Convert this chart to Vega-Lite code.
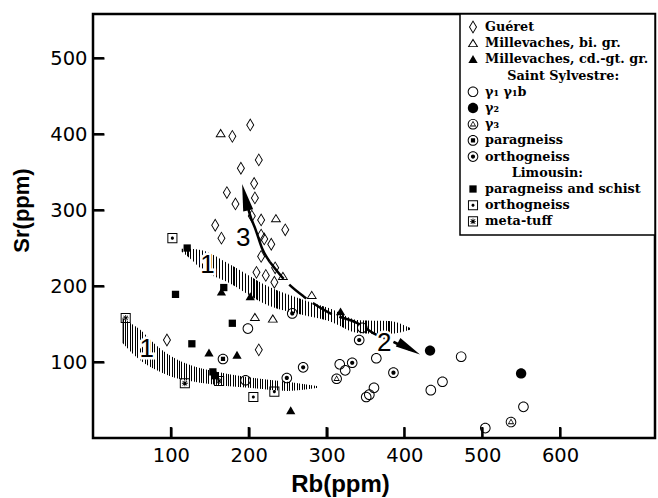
{
  "$schema": "https://vega.github.io/schema/vega-lite/v6.json",
  "width": 562,
  "height": 424,
  "autosize": {"type": "none"},
  "padding": {"left": 93, "top": 14, "right": 3, "bottom": 60},
  "background": "white",
  "config": {
    "view": {"stroke": "black", "strokeWidth": 2.5},
    "axis": {
      "grid": false, "domain": false, "offset": -11, "zindex": 1, "ticks": true,
      "tickColor": "black", "tickWidth": 2.2, "tickSize": 11, "tickOpacity": 1,
      "labelFont": "DejaVu Sans", "labelFontSize": 19.5, "labelColor": "black",
      "titleFont": "Liberation Sans", "titleFontWeight": "bold", "titleColor": "black"
    },
    "axisX": {"labelPadding": 8, "titleFontSize": 24, "titleX": 247, "titleY": 64, "titleBaseline": "alphabetic", "titleAlign": "center"},
    "axisY": {"labelPadding": 6, "titleFontSize": 22, "titleX": -76, "titleY": 196, "titleBaseline": "alphabetic", "titleAlign": "center", "titleAngle": -90},
    "legend": {
      "orient": "top-right", "offset": 0, "strokeColor": "black", "strokeWidth": 1.5,
      "fillColor": "white", "padding": 6, "labelFont": "DejaVu Serif", "labelFontSize": 12.8,
      "labelFontWeight": "bold", "labelColor": "black", "labelLimit": 400, "symbolSize": 196,
      "symbolFillColor": "black", "symbolStrokeWidth": 0, "symbolOpacity": 1, "rowPadding": 2.2, "labelOffset": 5
    }
  },
  "datasets": {
    "points": [
      {"Rb": 202, "Sr": 412, "type": "Guéret"}, {"Rb": 179, "Sr": 397, "type": "Guéret"},
      {"Rb": 213, "Sr": 366, "type": "Guéret"}, {"Rb": 190, "Sr": 355, "type": "Guéret"},
      {"Rb": 207, "Sr": 335, "type": "Guéret"}, {"Rb": 172, "Sr": 323, "type": "Guéret"},
      {"Rb": 208, "Sr": 316, "type": "Guéret"}, {"Rb": 183, "Sr": 308, "type": "Guéret"},
      {"Rb": 204, "Sr": 292, "type": "Guéret"}, {"Rb": 216, "Sr": 287, "type": "Guéret"},
      {"Rb": 157, "Sr": 280, "type": "Guéret"}, {"Rb": 247, "Sr": 274, "type": "Guéret"},
      {"Rb": 165, "Sr": 263, "type": "Guéret"}, {"Rb": 216, "Sr": 267, "type": "Guéret"},
      {"Rb": 220, "Sr": 262, "type": "Guéret"}, {"Rb": 229, "Sr": 255, "type": "Guéret"},
      {"Rb": 216, "Sr": 239, "type": "Guéret"}, {"Rb": 234, "Sr": 224, "type": "Guéret"},
      {"Rb": 210, "Sr": 218, "type": "Guéret"}, {"Rb": 222, "Sr": 214, "type": "Guéret"},
      {"Rb": 233, "Sr": 205, "type": "Guéret"}, {"Rb": 95, "Sr": 129, "type": "Guéret"},
      {"Rb": 213, "Sr": 116, "type": "Guéret"},
      {"Rb": 164, "Sr": 401, "type": "Millevaches, bi. gr."}, {"Rb": 235, "Sr": 289, "type": "Millevaches, bi. gr."},
      {"Rb": 244, "Sr": 213, "type": "Millevaches, bi. gr."}, {"Rb": 281, "Sr": 188, "type": "Millevaches, bi. gr."},
      {"Rb": 208, "Sr": 159, "type": "Millevaches, bi. gr."}, {"Rb": 231, "Sr": 157, "type": "Millevaches, bi. gr."},
      {"Rb": 149, "Sr": 112, "type": "Millevaches, cd.-gt. gr."}, {"Rb": 185, "Sr": 109, "type": "Millevaches, cd.-gt. gr."},
      {"Rb": 254, "Sr": 36, "type": "Millevaches, cd.-gt. gr."}, {"Rb": 165, "Sr": 192, "type": "Millevaches, cd.-gt. gr."},
      {"Rb": 202, "Sr": 186, "type": "Millevaches, cd.-gt. gr."}, {"Rb": 318, "Sr": 166, "type": "Millevaches, cd.-gt. gr."},
      {"Rb": 199, "Sr": 144, "type": "γ₁ γ₁b"}, {"Rb": 196, "Sr": 76, "type": "γ₁ γ₁b"},
      {"Rb": 317, "Sr": 97, "type": "γ₁ γ₁b"}, {"Rb": 324, "Sr": 89, "type": "γ₁ γ₁b"},
      {"Rb": 351, "Sr": 54, "type": "γ₁ γ₁b"}, {"Rb": 355, "Sr": 57, "type": "γ₁ γ₁b"},
      {"Rb": 364, "Sr": 105, "type": "γ₁ γ₁b"}, {"Rb": 346, "Sr": 145, "type": "γ₁ γ₁b"},
      {"Rb": 361, "Sr": 66, "type": "γ₁ γ₁b"}, {"Rb": 473, "Sr": 107, "type": "γ₁ γ₁b"},
      {"Rb": 434, "Sr": 63, "type": "γ₁ γ₁b"}, {"Rb": 449, "Sr": 74, "type": "γ₁ γ₁b"},
      {"Rb": 553, "Sr": 41, "type": "γ₁ γ₁b"}, {"Rb": 504, "Sr": 13, "type": "γ₁ γ₁b"},
      {"Rb": 433, "Sr": 115, "type": "γ₂"}, {"Rb": 550, "Sr": 85, "type": "γ₂"},
      {"Rb": 313, "Sr": 78, "type": "γ₃"}, {"Rb": 537, "Sr": 21, "type": "γ₃"},
      {"Rb": 167, "Sr": 104, "type": "Saint Sylvestre paragneiss"},
      {"Rb": 249, "Sr": 79, "type": "Saint Sylvestre orthogneiss"}, {"Rb": 270, "Sr": 93, "type": "Saint Sylvestre orthogneiss"},
      {"Rb": 333, "Sr": 99, "type": "Saint Sylvestre orthogneiss"}, {"Rb": 342, "Sr": 129, "type": "Saint Sylvestre orthogneiss"},
      {"Rb": 386, "Sr": 86, "type": "Saint Sylvestre orthogneiss"}, {"Rb": 256, "Sr": 164, "type": "Saint Sylvestre orthogneiss"},
      {"Rb": 127, "Sr": 124, "type": "paragneiss and schist"}, {"Rb": 154, "Sr": 87, "type": "paragneiss and schist"},
      {"Rb": 157, "Sr": 82, "type": "paragneiss and schist"}, {"Rb": 121, "Sr": 250, "type": "paragneiss and schist"},
      {"Rb": 106, "Sr": 189, "type": "paragneiss and schist"}, {"Rb": 168, "Sr": 198, "type": "paragneiss and schist"},
      {"Rb": 179, "Sr": 151, "type": "paragneiss and schist"},
      {"Rb": 102, "Sr": 263, "type": "Limousin orthogneiss"}, {"Rb": 206, "Sr": 54, "type": "Limousin orthogneiss"},
      {"Rb": 233, "Sr": 61, "type": "Limousin orthogneiss"},
      {"Rb": 42, "Sr": 158, "type": "meta-tuff"}, {"Rb": 118, "Sr": 72, "type": "meta-tuff"},
      {"Rb": 162, "Sr": 75, "type": "meta-tuff"}
    ],
    "bands": [
      {"band": "upper", "Rb": 114, "lo": 245, "hi": 249}, {"band": "upper", "Rb": 125, "lo": 236, "hi": 249},
      {"band": "upper", "Rb": 140, "lo": 222, "hi": 247}, {"band": "upper", "Rb": 175, "lo": 204, "hi": 229},
      {"band": "upper", "Rb": 226, "lo": 174, "hi": 199}, {"band": "upper", "Rb": 270, "lo": 162, "hi": 182},
      {"band": "upper", "Rb": 303, "lo": 154, "hi": 171}, {"band": "upper", "Rb": 342, "lo": 138, "hi": 155},
      {"band": "upper", "Rb": 380, "lo": 137, "hi": 154}, {"band": "upper", "Rb": 409, "lo": 143, "hi": 144},
      {"band": "lower", "Rb": 38, "lo": 125, "hi": 158}, {"band": "lower", "Rb": 50, "lo": 112, "hi": 150},
      {"band": "lower", "Rb": 60, "lo": 103, "hi": 143}, {"band": "lower", "Rb": 80, "lo": 90, "hi": 123},
      {"band": "lower", "Rb": 100, "lo": 81, "hi": 108}, {"band": "lower", "Rb": 125, "lo": 75, "hi": 96},
      {"band": "lower", "Rb": 150, "lo": 71, "hi": 89}, {"band": "lower", "Rb": 200, "lo": 66, "hi": 80},
      {"band": "lower", "Rb": 250, "lo": 62, "hi": 74}, {"band": "lower", "Rb": 290, "lo": 66, "hi": 68}
    ],
    "arrowSolid": [
      {"Rb": 196, "Sr": 318}, {"Rb": 201, "Sr": 296}, {"Rb": 209, "Sr": 274},
      {"Rb": 217, "Sr": 250}, {"Rb": 227, "Sr": 232}
    ],
    "arrowDashed": [
      {"Rb": 227, "Sr": 232}, {"Rb": 248, "Sr": 206},
      {"Rb": 271, "Sr": 186}, {"Rb": 303, "Sr": 165}, {"Rb": 342, "Sr": 150},
      {"Rb": 360, "Sr": 138}, {"Rb": 387, "Sr": 126}, {"Rb": 408, "Sr": 116}
    ],
    "head3": [{"Rb": 195.5, "Sr": 317}],
    "head2": [{"Rb": 406, "Sr": 118}],
    "labels": [
      {"Rb": 147, "Sr": 228, "label": "1"}, {"Rb": 69, "Sr": 117, "label": "1"},
      {"Rb": 374, "Sr": 125, "label": "2"}, {"Rb": 193, "Sr": 263, "label": "3"}
    ],
    "xticks": [{"Rb": 100}, {"Rb": 200}, {"Rb": 300}, {"Rb": 400}, {"Rb": 500}, {"Rb": 600}],
    "yticks": [{"Sr": 100}, {"Sr": 200}, {"Sr": 300}, {"Sr": 400}, {"Sr": 500}]
  },
  "layer": [
    {
      "data": {"name": "bands"},
      "mark": {
        "type": "area", "interpolate": "monotone", "opacity": 1,
        "color": {
          "gradient": "linear", "x1": 0, "y1": 0, "x2": 1, "y2": 0,
          "stops": [
            {"offset": 0, "color": "#000"}, {"offset": 0.005, "color": "#000"}, {"offset": 0.005, "color": "#fff"},
            {"offset": 0.0125, "color": "#fff"}, {"offset": 0.0125, "color": "#000"}, {"offset": 0.0175, "color": "#000"}, {"offset": 0.0175, "color": "#fff"},
            {"offset": 0.025, "color": "#fff"}, {"offset": 0.025, "color": "#000"}, {"offset": 0.03, "color": "#000"}, {"offset": 0.03, "color": "#fff"},
            {"offset": 0.0375, "color": "#fff"}, {"offset": 0.0375, "color": "#000"}, {"offset": 0.0425, "color": "#000"}, {"offset": 0.0425, "color": "#fff"},
            {"offset": 0.05, "color": "#fff"}, {"offset": 0.05, "color": "#000"}, {"offset": 0.055, "color": "#000"}, {"offset": 0.055, "color": "#fff"},
            {"offset": 0.0625, "color": "#fff"}, {"offset": 0.0625, "color": "#000"}, {"offset": 0.0675, "color": "#000"}, {"offset": 0.0675, "color": "#fff"},
            {"offset": 0.075, "color": "#fff"}, {"offset": 0.075, "color": "#000"}, {"offset": 0.08, "color": "#000"}, {"offset": 0.08, "color": "#fff"},
            {"offset": 0.0875, "color": "#fff"}, {"offset": 0.0875, "color": "#000"}, {"offset": 0.0925, "color": "#000"}, {"offset": 0.0925, "color": "#fff"},
            {"offset": 0.1, "color": "#fff"}, {"offset": 0.1, "color": "#000"}, {"offset": 0.105, "color": "#000"}, {"offset": 0.105, "color": "#fff"},
            {"offset": 0.1125, "color": "#fff"}, {"offset": 0.1125, "color": "#000"}, {"offset": 0.1175, "color": "#000"}, {"offset": 0.1175, "color": "#fff"},
            {"offset": 0.125, "color": "#fff"}, {"offset": 0.125, "color": "#000"}, {"offset": 0.13, "color": "#000"}, {"offset": 0.13, "color": "#fff"},
            {"offset": 0.1375, "color": "#fff"}, {"offset": 0.1375, "color": "#000"}, {"offset": 0.1425, "color": "#000"}, {"offset": 0.1425, "color": "#fff"},
            {"offset": 0.15, "color": "#fff"}, {"offset": 0.15, "color": "#000"}, {"offset": 0.155, "color": "#000"}, {"offset": 0.155, "color": "#fff"},
            {"offset": 0.1625, "color": "#fff"}, {"offset": 0.1625, "color": "#000"}, {"offset": 0.1675, "color": "#000"}, {"offset": 0.1675, "color": "#fff"},
            {"offset": 0.175, "color": "#fff"}, {"offset": 0.175, "color": "#000"}, {"offset": 0.18, "color": "#000"}, {"offset": 0.18, "color": "#fff"},
            {"offset": 0.1875, "color": "#fff"}, {"offset": 0.1875, "color": "#000"}, {"offset": 0.1925, "color": "#000"}, {"offset": 0.1925, "color": "#fff"},
            {"offset": 0.2, "color": "#fff"}, {"offset": 0.2, "color": "#000"}, {"offset": 0.205, "color": "#000"}, {"offset": 0.205, "color": "#fff"},
            {"offset": 0.2125, "color": "#fff"}, {"offset": 0.2125, "color": "#000"}, {"offset": 0.2175, "color": "#000"}, {"offset": 0.2175, "color": "#fff"},
            {"offset": 0.225, "color": "#fff"}, {"offset": 0.225, "color": "#000"}, {"offset": 0.23, "color": "#000"}, {"offset": 0.23, "color": "#fff"},
            {"offset": 0.2375, "color": "#fff"}, {"offset": 0.2375, "color": "#000"}, {"offset": 0.2425, "color": "#000"}, {"offset": 0.2425, "color": "#fff"},
            {"offset": 0.25, "color": "#fff"}, {"offset": 0.25, "color": "#000"}, {"offset": 0.255, "color": "#000"}, {"offset": 0.255, "color": "#fff"},
            {"offset": 0.2625, "color": "#fff"}, {"offset": 0.2625, "color": "#000"}, {"offset": 0.2675, "color": "#000"}, {"offset": 0.2675, "color": "#fff"},
            {"offset": 0.275, "color": "#fff"}, {"offset": 0.275, "color": "#000"}, {"offset": 0.28, "color": "#000"}, {"offset": 0.28, "color": "#fff"},
            {"offset": 0.2875, "color": "#fff"}, {"offset": 0.2875, "color": "#000"}, {"offset": 0.2925, "color": "#000"}, {"offset": 0.2925, "color": "#fff"},
            {"offset": 0.3, "color": "#fff"}, {"offset": 0.3, "color": "#000"}, {"offset": 0.305, "color": "#000"}, {"offset": 0.305, "color": "#fff"},
            {"offset": 0.3125, "color": "#fff"}, {"offset": 0.3125, "color": "#000"}, {"offset": 0.3175, "color": "#000"}, {"offset": 0.3175, "color": "#fff"},
            {"offset": 0.325, "color": "#fff"}, {"offset": 0.325, "color": "#000"}, {"offset": 0.33, "color": "#000"}, {"offset": 0.33, "color": "#fff"},
            {"offset": 0.3375, "color": "#fff"}, {"offset": 0.3375, "color": "#000"}, {"offset": 0.3425, "color": "#000"}, {"offset": 0.3425, "color": "#fff"},
            {"offset": 0.35, "color": "#fff"}, {"offset": 0.35, "color": "#000"}, {"offset": 0.355, "color": "#000"}, {"offset": 0.355, "color": "#fff"},
            {"offset": 0.3625, "color": "#fff"}, {"offset": 0.3625, "color": "#000"}, {"offset": 0.3675, "color": "#000"}, {"offset": 0.3675, "color": "#fff"},
            {"offset": 0.375, "color": "#fff"}, {"offset": 0.375, "color": "#000"}, {"offset": 0.38, "color": "#000"}, {"offset": 0.38, "color": "#fff"},
            {"offset": 0.3875, "color": "#fff"}, {"offset": 0.3875, "color": "#000"}, {"offset": 0.3925, "color": "#000"}, {"offset": 0.3925, "color": "#fff"},
            {"offset": 0.4, "color": "#fff"}, {"offset": 0.4, "color": "#000"}, {"offset": 0.405, "color": "#000"}, {"offset": 0.405, "color": "#fff"},
            {"offset": 0.4125, "color": "#fff"}, {"offset": 0.4125, "color": "#000"}, {"offset": 0.4175, "color": "#000"}, {"offset": 0.4175, "color": "#fff"},
            {"offset": 0.425, "color": "#fff"}, {"offset": 0.425, "color": "#000"}, {"offset": 0.43, "color": "#000"}, {"offset": 0.43, "color": "#fff"},
            {"offset": 0.4375, "color": "#fff"}, {"offset": 0.4375, "color": "#000"}, {"offset": 0.4425, "color": "#000"}, {"offset": 0.4425, "color": "#fff"},
            {"offset": 0.45, "color": "#fff"}, {"offset": 0.45, "color": "#000"}, {"offset": 0.455, "color": "#000"}, {"offset": 0.455, "color": "#fff"},
            {"offset": 0.4625, "color": "#fff"}, {"offset": 0.4625, "color": "#000"}, {"offset": 0.4675, "color": "#000"}, {"offset": 0.4675, "color": "#fff"},
            {"offset": 0.475, "color": "#fff"}, {"offset": 0.475, "color": "#000"}, {"offset": 0.48, "color": "#000"}, {"offset": 0.48, "color": "#fff"},
            {"offset": 0.4875, "color": "#fff"}, {"offset": 0.4875, "color": "#000"}, {"offset": 0.4925, "color": "#000"}, {"offset": 0.4925, "color": "#fff"},
            {"offset": 0.5, "color": "#fff"}, {"offset": 0.5, "color": "#000"}, {"offset": 0.505, "color": "#000"}, {"offset": 0.505, "color": "#fff"},
            {"offset": 0.5125, "color": "#fff"}, {"offset": 0.5125, "color": "#000"}, {"offset": 0.5175, "color": "#000"}, {"offset": 0.5175, "color": "#fff"},
            {"offset": 0.525, "color": "#fff"}, {"offset": 0.525, "color": "#000"}, {"offset": 0.53, "color": "#000"}, {"offset": 0.53, "color": "#fff"},
            {"offset": 0.5375, "color": "#fff"}, {"offset": 0.5375, "color": "#000"}, {"offset": 0.5425, "color": "#000"}, {"offset": 0.5425, "color": "#fff"},
            {"offset": 0.55, "color": "#fff"}, {"offset": 0.55, "color": "#000"}, {"offset": 0.555, "color": "#000"}, {"offset": 0.555, "color": "#fff"},
            {"offset": 0.5625, "color": "#fff"}, {"offset": 0.5625, "color": "#000"}, {"offset": 0.5675, "color": "#000"}, {"offset": 0.5675, "color": "#fff"},
            {"offset": 0.575, "color": "#fff"}, {"offset": 0.575, "color": "#000"}, {"offset": 0.58, "color": "#000"}, {"offset": 0.58, "color": "#fff"},
            {"offset": 0.5875, "color": "#fff"}, {"offset": 0.5875, "color": "#000"}, {"offset": 0.5925, "color": "#000"}, {"offset": 0.5925, "color": "#fff"},
            {"offset": 0.6, "color": "#fff"}, {"offset": 0.6, "color": "#000"}, {"offset": 0.605, "color": "#000"}, {"offset": 0.605, "color": "#fff"},
            {"offset": 0.6125, "color": "#fff"}, {"offset": 0.6125, "color": "#000"}, {"offset": 0.6175, "color": "#000"}, {"offset": 0.6175, "color": "#fff"},
            {"offset": 0.625, "color": "#fff"}, {"offset": 0.625, "color": "#000"}, {"offset": 0.63, "color": "#000"}, {"offset": 0.63, "color": "#fff"},
            {"offset": 0.6375, "color": "#fff"}, {"offset": 0.6375, "color": "#000"}, {"offset": 0.6425, "color": "#000"}, {"offset": 0.6425, "color": "#fff"},
            {"offset": 0.65, "color": "#fff"}, {"offset": 0.65, "color": "#000"}, {"offset": 0.655, "color": "#000"}, {"offset": 0.655, "color": "#fff"},
            {"offset": 0.6625, "color": "#fff"}, {"offset": 0.6625, "color": "#000"}, {"offset": 0.6675, "color": "#000"}, {"offset": 0.6675, "color": "#fff"},
            {"offset": 0.675, "color": "#fff"}, {"offset": 0.675, "color": "#000"}, {"offset": 0.68, "color": "#000"}, {"offset": 0.68, "color": "#fff"},
            {"offset": 0.6875, "color": "#fff"}, {"offset": 0.6875, "color": "#000"}, {"offset": 0.6925, "color": "#000"}, {"offset": 0.6925, "color": "#fff"},
            {"offset": 0.7, "color": "#fff"}, {"offset": 0.7, "color": "#000"}, {"offset": 0.705, "color": "#000"}, {"offset": 0.705, "color": "#fff"},
            {"offset": 0.7125, "color": "#fff"}, {"offset": 0.7125, "color": "#000"}, {"offset": 0.7175, "color": "#000"}, {"offset": 0.7175, "color": "#fff"},
            {"offset": 0.725, "color": "#fff"}, {"offset": 0.725, "color": "#000"}, {"offset": 0.73, "color": "#000"}, {"offset": 0.73, "color": "#fff"},
            {"offset": 0.7375, "color": "#fff"}, {"offset": 0.7375, "color": "#000"}, {"offset": 0.7425, "color": "#000"}, {"offset": 0.7425, "color": "#fff"},
            {"offset": 0.75, "color": "#fff"}, {"offset": 0.75, "color": "#000"}, {"offset": 0.755, "color": "#000"}, {"offset": 0.755, "color": "#fff"},
            {"offset": 0.7625, "color": "#fff"}, {"offset": 0.7625, "color": "#000"}, {"offset": 0.7675, "color": "#000"}, {"offset": 0.7675, "color": "#fff"},
            {"offset": 0.775, "color": "#fff"}, {"offset": 0.775, "color": "#000"}, {"offset": 0.78, "color": "#000"}, {"offset": 0.78, "color": "#fff"},
            {"offset": 0.7875, "color": "#fff"}, {"offset": 0.7875, "color": "#000"}, {"offset": 0.7925, "color": "#000"}, {"offset": 0.7925, "color": "#fff"},
            {"offset": 0.8, "color": "#fff"}, {"offset": 0.8, "color": "#000"}, {"offset": 0.805, "color": "#000"}, {"offset": 0.805, "color": "#fff"},
            {"offset": 0.8125, "color": "#fff"}, {"offset": 0.8125, "color": "#000"}, {"offset": 0.8175, "color": "#000"}, {"offset": 0.8175, "color": "#fff"},
            {"offset": 0.825, "color": "#fff"}, {"offset": 0.825, "color": "#000"}, {"offset": 0.83, "color": "#000"}, {"offset": 0.83, "color": "#fff"},
            {"offset": 0.8375, "color": "#fff"}, {"offset": 0.8375, "color": "#000"}, {"offset": 0.8425, "color": "#000"}, {"offset": 0.8425, "color": "#fff"},
            {"offset": 0.85, "color": "#fff"}, {"offset": 0.85, "color": "#000"}, {"offset": 0.855, "color": "#000"}, {"offset": 0.855, "color": "#fff"},
            {"offset": 0.8625, "color": "#fff"}, {"offset": 0.8625, "color": "#000"}, {"offset": 0.8675, "color": "#000"}, {"offset": 0.8675, "color": "#fff"},
            {"offset": 0.875, "color": "#fff"}, {"offset": 0.875, "color": "#000"}, {"offset": 0.88, "color": "#000"}, {"offset": 0.88, "color": "#fff"},
            {"offset": 0.8875, "color": "#fff"}, {"offset": 0.8875, "color": "#000"}, {"offset": 0.8925, "color": "#000"}, {"offset": 0.8925, "color": "#fff"},
            {"offset": 0.9, "color": "#fff"}, {"offset": 0.9, "color": "#000"}, {"offset": 0.905, "color": "#000"}, {"offset": 0.905, "color": "#fff"},
            {"offset": 0.9125, "color": "#fff"}, {"offset": 0.9125, "color": "#000"}, {"offset": 0.9175, "color": "#000"}, {"offset": 0.9175, "color": "#fff"},
            {"offset": 0.925, "color": "#fff"}, {"offset": 0.925, "color": "#000"}, {"offset": 0.93, "color": "#000"}, {"offset": 0.93, "color": "#fff"},
            {"offset": 0.9375, "color": "#fff"}, {"offset": 0.9375, "color": "#000"}, {"offset": 0.9425, "color": "#000"}, {"offset": 0.9425, "color": "#fff"},
            {"offset": 0.95, "color": "#fff"}, {"offset": 0.95, "color": "#000"}, {"offset": 0.955, "color": "#000"}, {"offset": 0.955, "color": "#fff"},
            {"offset": 0.9625, "color": "#fff"}, {"offset": 0.9625, "color": "#000"}, {"offset": 0.9675, "color": "#000"}, {"offset": 0.9675, "color": "#fff"},
            {"offset": 0.975, "color": "#fff"}, {"offset": 0.975, "color": "#000"}, {"offset": 0.98, "color": "#000"}, {"offset": 0.98, "color": "#fff"},
            {"offset": 0.9875, "color": "#fff"}, {"offset": 0.9875, "color": "#000"}, {"offset": 0.9925, "color": "#000"}, {"offset": 0.9925, "color": "#fff"},
            {"offset": 1, "color": "#fff"}
          ]
        }
      },
      "encoding": {
        "x": {"field": "Rb", "type": "quantitative", "scale": {"domain": [0, 722], "nice": false, "zero": false}, "axis": {"values": [100, 200, 300, 400, 500, 600]}, "title": "Rb(ppm)"},
        "y": {"field": "lo", "type": "quantitative", "scale": {"domain": [0, 558], "nice": false}, "axis": {"values": [100, 200, 300, 400, 500]}, "title": "Sr(ppm)"},
        "y2": {"field": "hi"},
        "detail": {"field": "band", "type": "nominal"}
      }
    },
    {
      "data": {"name": "xticks"},
      "mark": {"type": "rule", "color": "black", "strokeWidth": 2},
      "encoding": {
        "x": {"field": "Rb", "type": "quantitative", "scale": {"domain": [0, 722], "nice": false, "zero": false}, "axis": {"values": [100, 200, 300, 400, 500, 600]}, "title": "Rb(ppm)"},
        "y": {"datum": 0, "type": "quantitative", "scale": {"domain": [0, 558], "nice": false}, "axis": {"values": [100, 200, 300, 400, 500]}, "title": "Sr(ppm)"},
        "y2": {"datum": 14.5}
      }
    },
    {
      "data": {"name": "yticks"},
      "mark": {"type": "rule", "color": "black", "strokeWidth": 2},
      "encoding": {
        "x": {"datum": 0, "type": "quantitative", "scale": {"domain": [0, 722], "nice": false, "zero": false}, "axis": {"values": [100, 200, 300, 400, 500, 600]}, "title": "Rb(ppm)"},
        "x2": {"datum": 14},
        "y": {"field": "Sr", "type": "quantitative", "scale": {"domain": [0, 558], "nice": false}, "axis": {"values": [100, 200, 300, 400, 500]}, "title": "Sr(ppm)"}
      }
    },
    {
      "data": {"name": "arrowSolid"},
      "mark": {"type": "line", "interpolate": "monotone", "color": "black", "strokeWidth": 2.5},
      "encoding": {
        "x": {"field": "Rb", "type": "quantitative", "scale": {"domain": [0, 722], "nice": false, "zero": false}, "axis": {"values": [100, 200, 300, 400, 500, 600]}, "title": "Rb(ppm)"},
        "y": {"field": "Sr", "type": "quantitative", "scale": {"domain": [0, 558], "nice": false}, "axis": {"values": [100, 200, 300, 400, 500]}, "title": "Sr(ppm)"}
      }
    },
    {
      "data": {"name": "arrowDashed"},
      "mark": {"type": "line", "interpolate": "monotone", "color": "black", "strokeWidth": 2.5, "strokeDash": [22, 8]},
      "encoding": {
        "x": {"field": "Rb", "type": "quantitative", "scale": {"domain": [0, 722], "nice": false, "zero": false}, "axis": {"values": [100, 200, 300, 400, 500, 600]}, "title": "Rb(ppm)"},
        "y": {"field": "Sr", "type": "quantitative", "scale": {"domain": [0, 558], "nice": false}, "axis": {"values": [100, 200, 300, 400, 500]}, "title": "Sr(ppm)"}
      }
    },
    {
      "data": {"name": "head3"},
      "mark": {"type": "point", "shape": "M0,-1L0.38,1L-0.38,1Z", "size": 729, "angle": 347, "filled": true, "color": "black", "opacity": 1},
      "encoding": {
        "x": {"field": "Rb", "type": "quantitative", "scale": {"domain": [0, 722], "nice": false, "zero": false}, "axis": {"values": [100, 200, 300, 400, 500, 600]}, "title": "Rb(ppm)"},
        "y": {"field": "Sr", "type": "quantitative", "scale": {"domain": [0, 558], "nice": false}, "axis": {"values": [100, 200, 300, 400, 500]}, "title": "Sr(ppm)"}
      }
    },
    {
      "data": {"name": "head2"},
      "mark": {"type": "point", "shape": "M0,-1L0.38,1L-0.38,1Z", "size": 625, "angle": 119, "filled": true, "color": "black", "opacity": 1},
      "encoding": {
        "x": {"field": "Rb", "type": "quantitative", "scale": {"domain": [0, 722], "nice": false, "zero": false}, "axis": {"values": [100, 200, 300, 400, 500, 600]}, "title": "Rb(ppm)"},
        "y": {"field": "Sr", "type": "quantitative", "scale": {"domain": [0, 558], "nice": false}, "axis": {"values": [100, 200, 300, 400, 500]}, "title": "Sr(ppm)"}
      }
    },
    {
      "data": {"name": "labels"},
      "mark": {"type": "text", "font": "Liberation Sans", "fontSize": 26, "color": "white", "stroke": "white", "strokeWidth": 5, "align": "center", "baseline": "middle"},
      "encoding": {
        "x": {"field": "Rb", "type": "quantitative", "scale": {"domain": [0, 722], "nice": false, "zero": false}, "axis": {"values": [100, 200, 300, 400, 500, 600]}, "title": "Rb(ppm)"},
        "y": {"field": "Sr", "type": "quantitative", "scale": {"domain": [0, 558], "nice": false}, "axis": {"values": [100, 200, 300, 400, 500]}, "title": "Sr(ppm)"},
        "text": {"field": "label"}
      }
    },
    {
      "data": {"name": "labels"},
      "mark": {"type": "text", "font": "Liberation Sans", "fontSize": 26, "color": "black", "align": "center", "baseline": "middle"},
      "encoding": {
        "x": {"field": "Rb", "type": "quantitative", "scale": {"domain": [0, 722], "nice": false, "zero": false}, "axis": {"values": [100, 200, 300, 400, 500, 600]}, "title": "Rb(ppm)"},
        "y": {"field": "Sr", "type": "quantitative", "scale": {"domain": [0, 558], "nice": false}, "axis": {"values": [100, 200, 300, 400, 500]}, "title": "Sr(ppm)"},
        "text": {"field": "label"}
      }
    },
    {
      "data": {"name": "points"},
      "mark": {"type": "point", "filled": true, "color": "black", "size": 196, "opacity": 1, "strokeWidth": 0},
      "encoding": {
        "x": {"field": "Rb", "type": "quantitative", "scale": {"domain": [0, 722], "nice": false, "zero": false}, "axis": {"values": [100, 200, 300, 400, 500, 600]}, "title": "Rb(ppm)"},
        "y": {"field": "Sr", "type": "quantitative", "scale": {"domain": [0, 558], "nice": false}, "axis": {"values": [100, 200, 300, 400, 500]}, "title": "Sr(ppm)"},
        "shape": {
          "field": "type", "type": "nominal",
          "scale": {
            "domain": ["Guéret", "Millevaches, bi. gr.", "Millevaches, cd.-gt. gr.", "Saint Sylvestre:", "γ₁ γ₁b", "γ₂", "γ₃", "Saint Sylvestre paragneiss", "Saint Sylvestre orthogneiss", "Limousin:", "paragneiss and schist", "Limousin orthogneiss", "meta-tuff"],
            "range": [
              "M0,-0.95L0.58,0L0,0.95L-0.58,0ZM0,-0.72L-0.42,0L0,0.72L0.42,0Z",
              "M0,-0.68L0.75,0.55L-0.75,0.55ZM0,-0.4L-0.52,0.42L0.52,0.42Z",
              "M0,-0.62L0.66,0.5L-0.66,0.5Z",
              "M0,0Z",
              "M-0.76,0A0.76,0.76,0,1,1,0.76,0A0.76,0.76,0,1,1,-0.76,0ZM-0.62,0A0.62,0.62,0,1,0,0.62,0A0.62,0.62,0,1,0,-0.62,0Z",
              "M-0.74,0A0.74,0.74,0,1,1,0.74,0A0.74,0.74,0,1,1,-0.74,0Z",
              "M-0.76,0A0.76,0.76,0,1,1,0.76,0A0.76,0.76,0,1,1,-0.76,0ZM-0.62,0A0.62,0.62,0,1,0,0.62,0A0.62,0.62,0,1,0,-0.62,0ZM0,-0.5L0.46,0.32L-0.46,0.32ZM0,-0.28L-0.27,0.19L0.27,0.19Z",
              "M-0.76,0A0.76,0.76,0,1,1,0.76,0A0.76,0.76,0,1,1,-0.76,0ZM-0.62,0A0.62,0.62,0,1,0,0.62,0A0.62,0.62,0,1,0,-0.62,0ZM-0.3,-0.3L0.3,-0.3L0.3,0.3L-0.3,0.3Z",
              "M-0.76,0A0.76,0.76,0,1,1,0.76,0A0.76,0.76,0,1,1,-0.76,0ZM-0.62,0A0.62,0.62,0,1,0,0.62,0A0.62,0.62,0,1,0,-0.62,0ZM-0.3,0A0.3,0.3,0,1,1,0.3,0A0.3,0.3,0,1,1,-0.3,0Z",
              "M0,0Z",
              "M-0.52,-0.52L0.52,-0.52L0.52,0.52L-0.52,0.52Z",
              "M-0.72,-0.72L0.72,-0.72L0.72,0.72L-0.72,0.72ZM-0.58,-0.58L-0.58,0.58L0.58,0.58L0.58,-0.58ZM-0.22,0A0.22,0.22,0,1,1,0.22,0A0.22,0.22,0,1,1,-0.22,0Z",
              "M-0.72,-0.72L0.72,-0.72L0.72,0.72L-0.72,0.72ZM-0.58,-0.58L-0.58,0.58L0.58,0.58L0.58,-0.58ZM-0.42,-0.06L0.42,-0.06L0.42,0.06L-0.42,0.06ZM-0.06,-0.42L0.06,-0.42L0.06,0.42L-0.06,0.42ZM-0.36,-0.28L-0.28,-0.36L0.36,0.28L0.28,0.36ZM0.28,-0.36L0.36,-0.28L-0.28,0.36L-0.36,0.28Z"
            ]
          },
          "legend": {
            "title": null,
            "labelExpr": "datum.label == 'Saint Sylvestre paragneiss' ? 'paragneiss' : (datum.label == 'Saint Sylvestre orthogneiss' || datum.label == 'Limousin orthogneiss') ? 'orthogneiss' : datum.label == 'Saint Sylvestre:' ? '\u200b\u00a0\u00a0\u00a0\u00a0\u00a0Saint Sylvestre:' : datum.label == 'Limousin:' ? '\u200b\u00a0\u00a0\u00a0\u00a0\u00a0\u00a0Limousin:' : datum.label"
          }
        }
      }
    }
  ]
}
